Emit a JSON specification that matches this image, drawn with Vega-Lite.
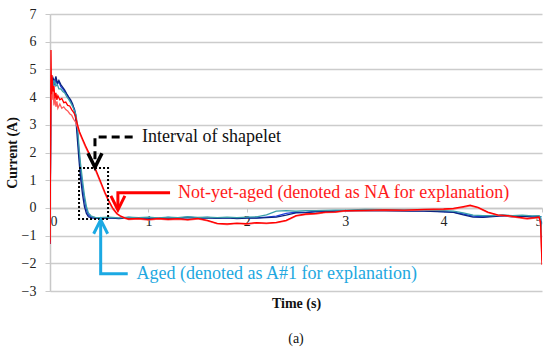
{
  "$schema": "https://vega.github.io/schema/vega-lite/v6.json",
  "width": 492,
  "height": 277,
  "autosize": "none",
  "padding": {"left": 50, "top": 14, "right": 8, "bottom": 61},
  "background": "white",
  "config": {
    "view": {"stroke": null},
    "font": "Liberation Serif",
    "axis": {"labelFont": "Liberation Serif", "titleFont": "Liberation Serif", "labelFontSize": 14, "titleFontSize": 14, "labelColor": "#222", "titleColor": "#111", "labelOverlap": false},
    "text": {"font": "Liberation Serif"},
    "title": {"font": "Liberation Serif"}
  },
  "title": {"text": "(a)", "orient": "bottom", "fontSize": 14, "fontWeight": "normal", "color": "#111", "offset": 22},
  "encoding": {
    "x": {"field": "t", "type": "quantitative", "scale": {"domain": [0, 5], "nice": false, "zero": false},
          "axis": {"values": [0,1,2,3,4,5], "format": "d", "labelOverlap": false, "offset": -83, "grid": false, "domainColor": "#c8c8c8", "domainWidth": 1.5, "tickColor": "#c8c8c8", "tickSize": 4, "labelPadding": 2, "title": "Time (s)", "titleFontWeight": "bold", "titleY": 95, "titleBaseline": "middle"}},
    "y": {"field": "v", "type": "quantitative", "scale": {"domain": [-3, 7], "nice": false, "zero": false},
          "axis": {"values": [-3,-2,-1,0,1,2,3,4,5,6,7], "format": "d", "labelOverlap": false, "grid": true, "gridColor": "#cccccc", "gridWidth": 1.5, "domainColor": "#c8c8c8", "domainWidth": 1.5, "tickColor": "#c8c8c8", "tickSize": 5, "labelPadding": 9, "title": "Current (A)", "titleFontWeight": "bold", "titleX": -38, "titleBaseline": "middle"}}
  },
  "datasets": {
    "curves": [
      {"s":"A1","t":0,"v":-1.3},{"s":"A1","t":0.008,"v":3.6},{"s":"A1","t":0.015,"v":4.3},{"s":"A1","t":0.03,"v":4.55},{"s":"A1","t":0.045,"v":4.45},{"s":"A1","t":0.06,"v":4.62},{"s":"A1","t":0.075,"v":4.48},{"s":"A1","t":0.09,"v":4.55},{"s":"A1","t":0.11,"v":4.38},{"s":"A1","t":0.13,"v":4.3},{"s":"A1","t":0.15,"v":4.2},{"s":"A1","t":0.17,"v":4.1},{"s":"A1","t":0.19,"v":3.98},{"s":"A1","t":0.21,"v":3.85},{"s":"A1","t":0.23,"v":3.7},{"s":"A1","t":0.25,"v":3.55},{"s":"A1","t":0.265,"v":3.3},{"s":"A1","t":0.28,"v":2.7},{"s":"A1","t":0.295,"v":2.0},{"s":"A1","t":0.31,"v":1.4},{"s":"A1","t":0.33,"v":0.8},{"s":"A1","t":0.35,"v":0.3},{"s":"A1","t":0.37,"v":-0.05},{"s":"A1","t":0.39,"v":-0.25},{"s":"A1","t":0.42,"v":-0.35},{"s":"A1","t":0.5,"v":-0.37},{"s":"A1","t":0.6,"v":-0.35},{"s":"A1","t":0.7,"v":-0.38},{"s":"A1","t":0.8,"v":-0.34},{"s":"A1","t":0.9,"v":-0.37},{"s":"A1","t":1.0,"v":-0.35},{"s":"A1","t":1.1,"v":-0.38},{"s":"A1","t":1.2,"v":-0.34},{"s":"A1","t":1.3,"v":-0.37},{"s":"A1","t":1.4,"v":-0.33},{"s":"A1","t":1.5,"v":-0.36},{"s":"A1","t":1.6,"v":-0.34},{"s":"A1","t":1.7,"v":-0.37},{"s":"A1","t":1.8,"v":-0.35},{"s":"A1","t":1.9,"v":-0.38},{"s":"A1","t":2.0,"v":-0.35},{"s":"A1","t":2.1,"v":-0.36},{"s":"A1","t":2.2,"v":-0.33},{"s":"A1","t":2.3,"v":-0.3},{"s":"A1","t":2.4,"v":-0.2},{"s":"A1","t":2.5,"v":-0.15},{"s":"A1","t":2.6,"v":-0.16},{"s":"A1","t":2.7,"v":-0.12},{"s":"A1","t":2.8,"v":-0.13},{"s":"A1","t":2.9,"v":-0.1},{"s":"A1","t":3.0,"v":-0.11},{"s":"A1","t":3.2,"v":-0.08},{"s":"A1","t":3.4,"v":-0.09},{"s":"A1","t":3.6,"v":-0.1},{"s":"A1","t":3.8,"v":-0.11},{"s":"A1","t":4.0,"v":-0.13},{"s":"A1","t":4.1,"v":-0.15},{"s":"A1","t":4.2,"v":-0.22},{"s":"A1","t":4.3,"v":-0.3},{"s":"A1","t":4.4,"v":-0.32},{"s":"A1","t":4.5,"v":-0.3},{"s":"A1","t":4.6,"v":-0.27},{"s":"A1","t":4.7,"v":-0.3},{"s":"A1","t":4.8,"v":-0.28},{"s":"A1","t":4.9,"v":-0.31},{"s":"A1","t":4.97,"v":-0.3},{"s":"A1","t":4.985,"v":-0.35},{"s":"A1","t":5.0,"v":-1.1},

      {"s":"A2","t":0,"v":-1.2},{"s":"A2","t":0.008,"v":3.9},{"s":"A2","t":0.015,"v":4.5},{"s":"A2","t":0.03,"v":4.7},{"s":"A2","t":0.045,"v":4.55},{"s":"A2","t":0.06,"v":4.75},{"s":"A2","t":0.075,"v":4.5},{"s":"A2","t":0.09,"v":4.6},{"s":"A2","t":0.11,"v":4.45},{"s":"A2","t":0.13,"v":4.35},{"s":"A2","t":0.15,"v":4.25},{"s":"A2","t":0.17,"v":4.12},{"s":"A2","t":0.19,"v":4.0},{"s":"A2","t":0.21,"v":3.9},{"s":"A2","t":0.23,"v":3.75},{"s":"A2","t":0.25,"v":3.5},{"s":"A2","t":0.265,"v":3.1},{"s":"A2","t":0.28,"v":2.4},{"s":"A2","t":0.295,"v":1.7},{"s":"A2","t":0.31,"v":1.1},{"s":"A2","t":0.33,"v":0.5},{"s":"A2","t":0.35,"v":0.05},{"s":"A2","t":0.37,"v":-0.2},{"s":"A2","t":0.39,"v":-0.32},{"s":"A2","t":0.42,"v":-0.36},{"s":"A2","t":0.5,"v":-0.38},{"s":"A2","t":0.6,"v":-0.36},{"s":"A2","t":0.7,"v":-0.39},{"s":"A2","t":0.8,"v":-0.36},{"s":"A2","t":0.9,"v":-0.38},{"s":"A2","t":1.0,"v":-0.36},{"s":"A2","t":1.1,"v":-0.39},{"s":"A2","t":1.2,"v":-0.36},{"s":"A2","t":1.3,"v":-0.38},{"s":"A2","t":1.4,"v":-0.35},{"s":"A2","t":1.5,"v":-0.37},{"s":"A2","t":1.6,"v":-0.36},{"s":"A2","t":1.7,"v":-0.38},{"s":"A2","t":1.8,"v":-0.36},{"s":"A2","t":1.9,"v":-0.39},{"s":"A2","t":2.0,"v":-0.37},{"s":"A2","t":2.1,"v":-0.37},{"s":"A2","t":2.2,"v":-0.35},{"s":"A2","t":2.3,"v":-0.33},{"s":"A2","t":2.4,"v":-0.26},{"s":"A2","t":2.5,"v":-0.18},{"s":"A2","t":2.6,"v":-0.17},{"s":"A2","t":2.7,"v":-0.14},{"s":"A2","t":2.8,"v":-0.14},{"s":"A2","t":2.9,"v":-0.12},{"s":"A2","t":3.0,"v":-0.12},{"s":"A2","t":3.2,"v":-0.1},{"s":"A2","t":3.4,"v":-0.11},{"s":"A2","t":3.6,"v":-0.12},{"s":"A2","t":3.8,"v":-0.12},{"s":"A2","t":4.0,"v":-0.14},{"s":"A2","t":4.1,"v":-0.16},{"s":"A2","t":4.2,"v":-0.25},{"s":"A2","t":4.3,"v":-0.33},{"s":"A2","t":4.4,"v":-0.34},{"s":"A2","t":4.5,"v":-0.31},{"s":"A2","t":4.6,"v":-0.29},{"s":"A2","t":4.7,"v":-0.32},{"s":"A2","t":4.8,"v":-0.3},{"s":"A2","t":4.9,"v":-0.33},{"s":"A2","t":4.97,"v":-0.32},{"s":"A2","t":4.985,"v":-0.4},{"s":"A2","t":5.0,"v":-1.3},

      {"s":"A3","t":0,"v":-1.1},{"s":"A3","t":0.008,"v":3.8},{"s":"A3","t":0.015,"v":4.4},{"s":"A3","t":0.03,"v":4.35},{"s":"A3","t":0.045,"v":4.6},{"s":"A3","t":0.06,"v":4.4},{"s":"A3","t":0.075,"v":4.45},{"s":"A3","t":0.09,"v":4.3},{"s":"A3","t":0.11,"v":4.3},{"s":"A3","t":0.13,"v":4.2},{"s":"A3","t":0.15,"v":4.15},{"s":"A3","t":0.17,"v":4.02},{"s":"A3","t":0.19,"v":3.92},{"s":"A3","t":0.21,"v":3.8},{"s":"A3","t":0.23,"v":3.66},{"s":"A3","t":0.25,"v":3.5},{"s":"A3","t":0.265,"v":3.35},{"s":"A3","t":0.28,"v":2.9},{"s":"A3","t":0.295,"v":2.2},{"s":"A3","t":0.31,"v":1.6},{"s":"A3","t":0.33,"v":1.0},{"s":"A3","t":0.35,"v":0.45},{"s":"A3","t":0.37,"v":0.05},{"s":"A3","t":0.39,"v":-0.18},{"s":"A3","t":0.42,"v":-0.3},{"s":"A3","t":0.46,"v":-0.34},{"s":"A3","t":0.5,"v":-0.35},{"s":"A3","t":0.6,"v":-0.33},{"s":"A3","t":0.7,"v":-0.36},{"s":"A3","t":0.8,"v":-0.33},{"s":"A3","t":0.9,"v":-0.35},{"s":"A3","t":1.0,"v":-0.33},{"s":"A3","t":1.1,"v":-0.36},{"s":"A3","t":1.2,"v":-0.33},{"s":"A3","t":1.3,"v":-0.35},{"s":"A3","t":1.4,"v":-0.32},{"s":"A3","t":1.5,"v":-0.34},{"s":"A3","t":1.6,"v":-0.33},{"s":"A3","t":1.7,"v":-0.35},{"s":"A3","t":1.8,"v":-0.33},{"s":"A3","t":1.9,"v":-0.35},{"s":"A3","t":2.0,"v":-0.33},{"s":"A3","t":2.1,"v":-0.32},{"s":"A3","t":2.2,"v":-0.25},{"s":"A3","t":2.3,"v":-0.12},{"s":"A3","t":2.4,"v":-0.1},{"s":"A3","t":2.5,"v":-0.12},{"s":"A3","t":2.6,"v":-0.1},{"s":"A3","t":2.7,"v":-0.1},{"s":"A3","t":2.8,"v":-0.09},{"s":"A3","t":2.9,"v":-0.08},{"s":"A3","t":3.0,"v":-0.08},{"s":"A3","t":3.2,"v":-0.05},{"s":"A3","t":3.4,"v":-0.06},{"s":"A3","t":3.6,"v":-0.07},{"s":"A3","t":3.8,"v":-0.08},{"s":"A3","t":4.0,"v":-0.1},{"s":"A3","t":4.1,"v":-0.12},{"s":"A3","t":4.2,"v":-0.18},{"s":"A3","t":4.3,"v":-0.26},{"s":"A3","t":4.4,"v":-0.28},{"s":"A3","t":4.5,"v":-0.28},{"s":"A3","t":4.6,"v":-0.25},{"s":"A3","t":4.7,"v":-0.28},{"s":"A3","t":4.8,"v":-0.26},{"s":"A3","t":4.9,"v":-0.29},{"s":"A3","t":4.97,"v":-0.28},{"s":"A3","t":4.985,"v":-0.33},{"s":"A3","t":5.0,"v":-1.0},

      {"s":"N2","t":0,"v":-1.2},{"s":"N2","t":0.006,"v":2.5},{"s":"N2","t":0.012,"v":4.8},{"s":"N2","t":0.02,"v":3.9},{"s":"N2","t":0.03,"v":4.3},{"s":"N2","t":0.04,"v":3.7},{"s":"N2","t":0.05,"v":4.0},{"s":"N2","t":0.06,"v":3.65},{"s":"N2","t":0.07,"v":3.85},{"s":"N2","t":0.08,"v":3.6},{"s":"N2","t":0.1,"v":3.75},{"s":"N2","t":0.12,"v":3.6},{"s":"N2","t":0.14,"v":3.65},{"s":"N2","t":0.16,"v":3.55},{"s":"N2","t":0.18,"v":3.5},{"s":"N2","t":0.2,"v":3.4},{"s":"N2","t":0.22,"v":3.35},{"s":"N2","t":0.24,"v":3.2},{"s":"N2","t":0.26,"v":3.1},{"s":"N2","t":0.28,"v":2.9},{"s":"N2","t":0.3,"v":2.7},{"s":"N2","t":0.33,"v":2.45},{"s":"N2","t":0.36,"v":2.2},{"s":"N2","t":0.4,"v":1.9},{"s":"N2","t":0.44,"v":1.55},{"s":"N2","t":0.48,"v":1.2},{"s":"N2","t":0.52,"v":0.85},{"s":"N2","t":0.56,"v":0.5},{"s":"N2","t":0.6,"v":0.2},{"s":"N2","t":0.64,"v":-0.05},{"s":"N2","t":0.68,"v":-0.22},{"s":"N2","t":0.72,"v":-0.32},{"s":"N2","t":0.76,"v":-0.38},{"s":"N2","t":0.8,"v":-0.42},{"s":"N2","t":0.9,"v":-0.4},{"s":"N2","t":1.0,"v":-0.44},{"s":"N2","t":1.1,"v":-0.4},{"s":"N2","t":1.2,"v":-0.43},{"s":"N2","t":1.3,"v":-0.41},{"s":"N2","t":1.4,"v":-0.44},{"s":"N2","t":1.5,"v":-0.4},{"s":"N2","t":1.6,"v":-0.47},{"s":"N2","t":1.7,"v":-0.58},{"s":"N2","t":1.8,"v":-0.6},{"s":"N2","t":1.9,"v":-0.57},{"s":"N2","t":2.0,"v":-0.59},{"s":"N2","t":2.1,"v":-0.55},{"s":"N2","t":2.2,"v":-0.57},{"s":"N2","t":2.3,"v":-0.54},{"s":"N2","t":2.4,"v":-0.47},{"s":"N2","t":2.5,"v":-0.3},{"s":"N2","t":2.6,"v":-0.24},{"s":"N2","t":2.7,"v":-0.22},{"s":"N2","t":2.8,"v":-0.17},{"s":"N2","t":2.9,"v":-0.16},{"s":"N2","t":3.0,"v":-0.12},{"s":"N2","t":3.2,"v":-0.11},{"s":"N2","t":3.4,"v":-0.09},{"s":"N2","t":3.6,"v":-0.1},{"s":"N2","t":3.8,"v":-0.07},{"s":"N2","t":4.0,"v":-0.06},{"s":"N2","t":4.1,"v":-0.04},{"s":"N2","t":4.2,"v":0.02},{"s":"N2","t":4.27,"v":0.07},{"s":"N2","t":4.35,"v":0.0},{"s":"N2","t":4.45,"v":-0.17},{"s":"N2","t":4.55,"v":-0.27},{"s":"N2","t":4.65,"v":-0.3},{"s":"N2","t":4.75,"v":-0.35},{"s":"N2","t":4.85,"v":-0.4},{"s":"N2","t":4.93,"v":-0.37},{"s":"N2","t":4.97,"v":-0.35},{"s":"N2","t":4.985,"v":-0.6},{"s":"N2","t":5.0,"v":-1.9},

      {"s":"N1","t":0,"v":-1.3},{"s":"N1","t":0.005,"v":1.5},{"s":"N1","t":0.01,"v":5.7},{"s":"N1","t":0.015,"v":4.1},{"s":"N1","t":0.02,"v":4.8},{"s":"N1","t":0.03,"v":4.2},{"s":"N1","t":0.04,"v":4.4},{"s":"N1","t":0.05,"v":3.95},{"s":"N1","t":0.06,"v":4.15},{"s":"N1","t":0.07,"v":3.9},{"s":"N1","t":0.08,"v":4.05},{"s":"N1","t":0.1,"v":3.9},{"s":"N1","t":0.12,"v":3.95},{"s":"N1","t":0.14,"v":3.8},{"s":"N1","t":0.16,"v":3.82},{"s":"N1","t":0.18,"v":3.7},{"s":"N1","t":0.2,"v":3.68},{"s":"N1","t":0.22,"v":3.55},{"s":"N1","t":0.24,"v":3.45},{"s":"N1","t":0.26,"v":3.3},{"s":"N1","t":0.28,"v":3.0},{"s":"N1","t":0.3,"v":2.75},{"s":"N1","t":0.33,"v":2.5},{"s":"N1","t":0.36,"v":2.25},{"s":"N1","t":0.4,"v":1.95},{"s":"N1","t":0.44,"v":1.6},{"s":"N1","t":0.48,"v":1.25},{"s":"N1","t":0.52,"v":0.9},{"s":"N1","t":0.56,"v":0.55},{"s":"N1","t":0.6,"v":0.25},{"s":"N1","t":0.64,"v":-0.02},{"s":"N1","t":0.68,"v":-0.2},{"s":"N1","t":0.72,"v":-0.3},{"s":"N1","t":0.76,"v":-0.36},{"s":"N1","t":0.8,"v":-0.4},{"s":"N1","t":0.9,"v":-0.38},{"s":"N1","t":1.0,"v":-0.42},{"s":"N1","t":1.1,"v":-0.38},{"s":"N1","t":1.2,"v":-0.41},{"s":"N1","t":1.3,"v":-0.39},{"s":"N1","t":1.4,"v":-0.42},{"s":"N1","t":1.5,"v":-0.38},{"s":"N1","t":1.6,"v":-0.45},{"s":"N1","t":1.7,"v":-0.56},{"s":"N1","t":1.8,"v":-0.58},{"s":"N1","t":1.9,"v":-0.55},{"s":"N1","t":2.0,"v":-0.57},{"s":"N1","t":2.1,"v":-0.53},{"s":"N1","t":2.2,"v":-0.55},{"s":"N1","t":2.3,"v":-0.52},{"s":"N1","t":2.4,"v":-0.45},{"s":"N1","t":2.5,"v":-0.28},{"s":"N1","t":2.6,"v":-0.22},{"s":"N1","t":2.7,"v":-0.2},{"s":"N1","t":2.8,"v":-0.15},{"s":"N1","t":2.9,"v":-0.14},{"s":"N1","t":3.0,"v":-0.1},{"s":"N1","t":3.2,"v":-0.09},{"s":"N1","t":3.4,"v":-0.07},{"s":"N1","t":3.6,"v":-0.08},{"s":"N1","t":3.8,"v":-0.05},{"s":"N1","t":4.0,"v":-0.04},{"s":"N1","t":4.1,"v":-0.02},{"s":"N1","t":4.2,"v":0.05},{"s":"N1","t":4.27,"v":0.1},{"s":"N1","t":4.35,"v":0.02},{"s":"N1","t":4.45,"v":-0.15},{"s":"N1","t":4.55,"v":-0.25},{"s":"N1","t":4.65,"v":-0.28},{"s":"N1","t":4.75,"v":-0.33},{"s":"N1","t":4.85,"v":-0.38},{"s":"N1","t":4.93,"v":-0.35},{"s":"N1","t":4.97,"v":-0.33},{"s":"N1","t":4.985,"v":-0.5},{"s":"N1","t":5.0,"v":-2.05}
    ],
    "paths": [
      {"a":"black","o":1,"t":0.84,"v":2.56},{"a":"black","o":2,"t":0.457,"v":2.56},{"a":"black","o":3,"t":0.457,"v":1.55},
      {"a":"red","o":1,"t":1.22,"v":0.55},{"a":"red","o":2,"t":0.69,"v":0.55},{"a":"red","o":3,"t":0.69,"v":-0.05},
      {"a":"cyan","o":1,"t":0.79,"v":-2.38},{"a":"cyan","o":2,"t":0.515,"v":-2.38},{"a":"cyan","o":3,"t":0.515,"v":-0.45}
    ],
    "heads": [
      {"a":"black","t":0.457,"v":1.72},
      {"a":"red","t":0.69,"v":0.18},
      {"a":"cyan","t":0.515,"v":-0.68}
    ],
    "labels": [
      {"a":"black","t":0.935,"v":2.56,"text":"Interval of shapelet"},
      {"a":"red","t":1.3,"v":0.55,"text":"Not-yet-aged (denoted as NA for explanation)"},
      {"a":"cyan","t":0.88,"v":-2.38,"text":"Aged (denoted as A#1 for explanation)"}
    ],
    "box": [{"t":0.295,"t2":0.59,"v":-0.4,"v2":1.44}]
  },
  "layer": [
    {
      "data": {"name": "curves"},
      "mark": {"type": "line", "strokeWidth": 1.3, "clip": true},
      "encoding": {
        "detail": {"field": "s"},
        "color": {"field": "s", "type": "nominal", "legend": null, "sort": ["A1","A2","A3","N2","N1"],
                  "scale": {"domain": ["A1","A2","A3","N2","N1"], "range": ["#1f3fe0","#0c2580","#3a9fa8","#ff5a5a","#ff0000"]}},
        "order": {"field": "t", "type": "quantitative"}
      }
    },
    {
      "data": {"name": "box"},
      "mark": {"type": "rect", "fill": null, "fillOpacity": 0, "stroke": "#000", "strokeWidth": 2, "strokeDash": [2, 2]},
      "encoding": {"x2": {"field": "t2"}, "y2": {"field": "v2"}}
    },
    {
      "data": {"name": "paths"},
      "transform": [{"filter": "datum.a == 'black'"}],
      "mark": {"type": "line", "color": "#000", "strokeWidth": 3, "strokeDash": [8, 5]},
      "encoding": {"order": {"field": "o"}}
    },
    {
      "data": {"name": "paths"},
      "transform": [{"filter": "datum.a == 'red'"}],
      "mark": {"type": "line", "color": "#ff0000", "strokeWidth": 3},
      "encoding": {"order": {"field": "o"}}
    },
    {
      "data": {"name": "paths"},
      "transform": [{"filter": "datum.a == 'cyan'"}],
      "mark": {"type": "line", "color": "#1ba9e3", "strokeWidth": 3},
      "encoding": {"order": {"field": "o"}}
    },
    {
      "data": {"name": "heads"},
      "transform": [{"filter": "datum.a == 'black'"}],
      "mark": {"type": "point", "shape": "M-1,-1L0,1L1,-1", "size": 196, "filled": false, "stroke": "#000", "strokeWidth": 3.5, "opacity": 1}
    },
    {
      "data": {"name": "heads"},
      "transform": [{"filter": "datum.a == 'red'"}],
      "mark": {"type": "point", "shape": "M-1,-1L0,1L1,-1", "size": 196, "filled": false, "stroke": "#ff0000", "strokeWidth": 3, "opacity": 1}
    },
    {
      "data": {"name": "heads"},
      "transform": [{"filter": "datum.a == 'cyan'"}],
      "mark": {"type": "point", "shape": "M-1,1L0,-1L1,1", "size": 196, "filled": false, "stroke": "#1ba9e3", "strokeWidth": 3, "opacity": 1}
    },
    {
      "data": {"name": "labels"},
      "mark": {"type": "text", "align": "left", "baseline": "middle", "fontSize": 18},
      "encoding": {
        "text": {"field": "text"},
        "color": {"field": "a", "type": "nominal", "legend": null, "scale": {"domain": ["black","red","cyan"], "range": ["#111111","#ff1a1a","#22a8e0"]}}
      }
    }
  ],
  "resolve": {"scale": {"color": "independent"}}
}
